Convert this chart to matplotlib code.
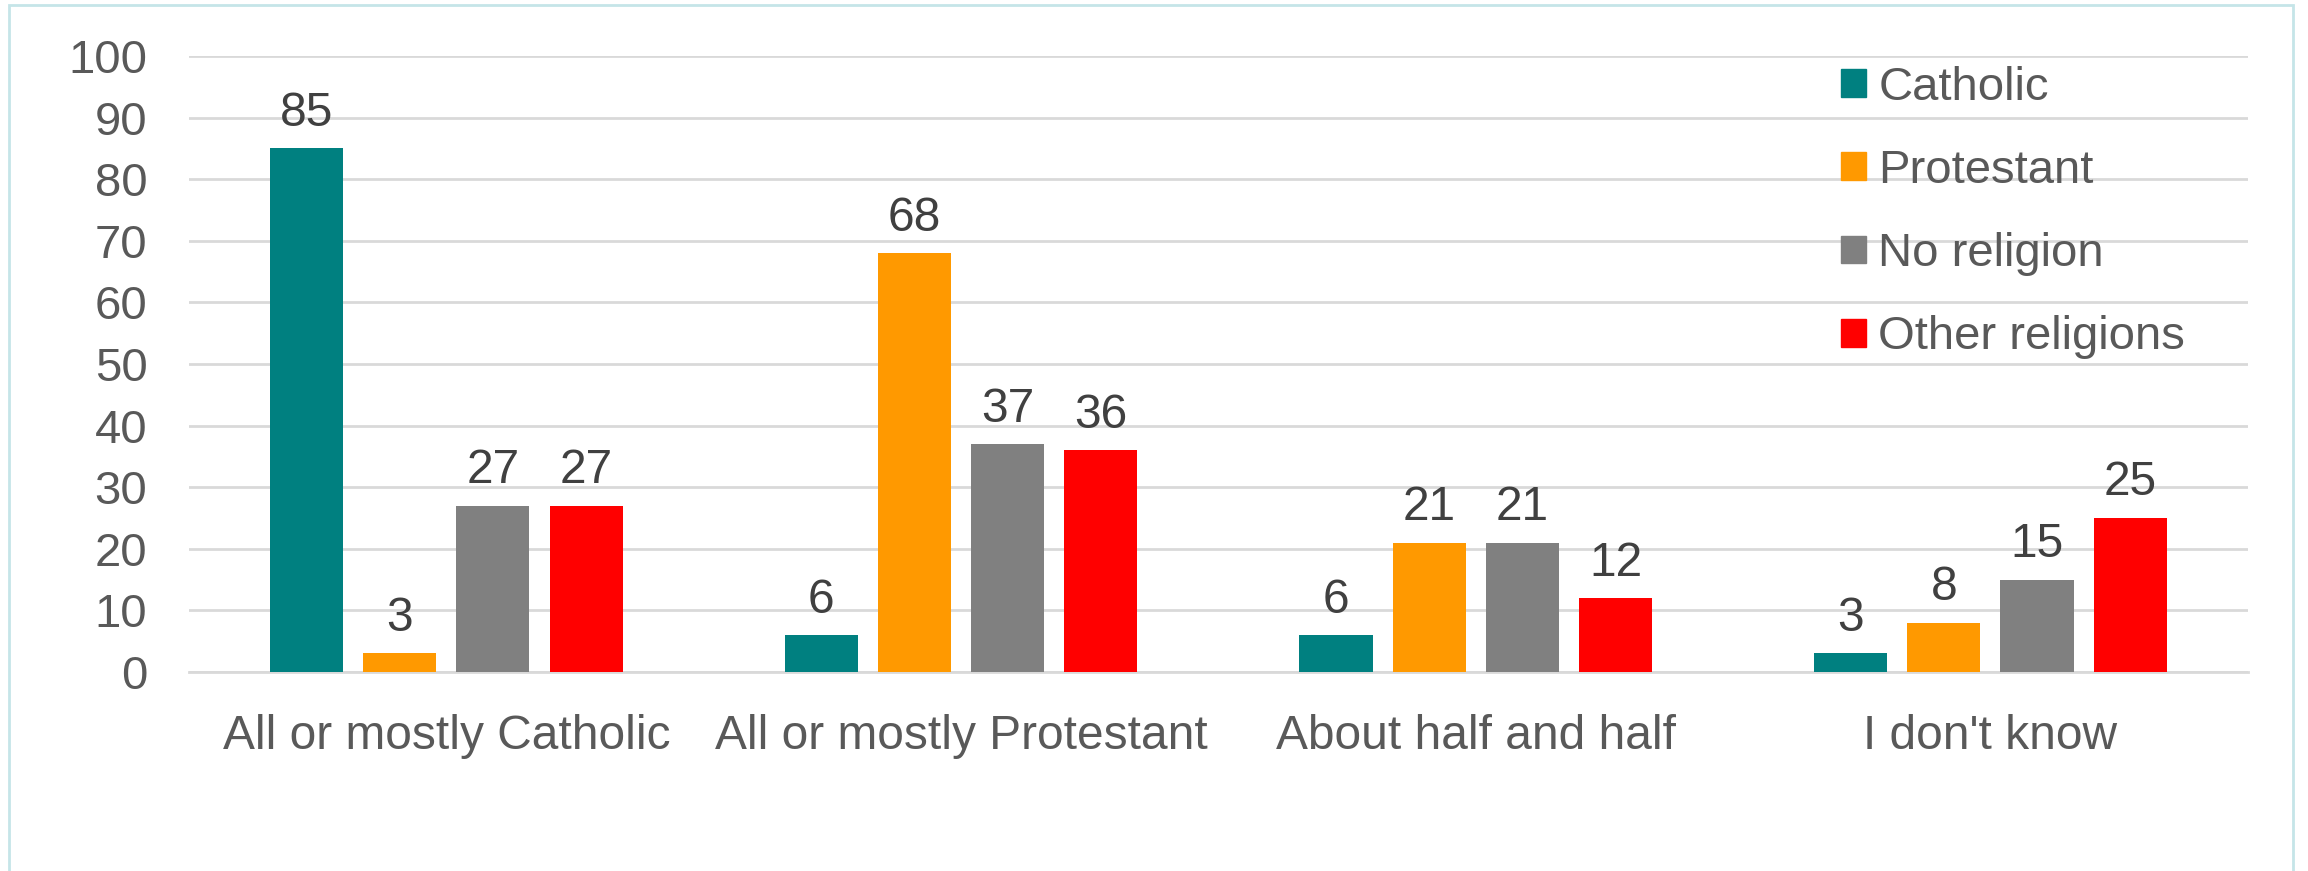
import numpy as np
import matplotlib.pyplot as plt
from matplotlib.patches import Rectangle, Patch

plt.rcParams['font.family'] = ['Liberation Sans', 'DejaVu Sans']

categories = ['All or mostly Catholic', 'All or mostly Protestant', 'About half and half', "I don't know"]
series = ['Catholic', 'Protestant', 'No religion', 'Other religions']
catholic = [85, 6, 6, 3]
protestant = [3, 68, 21, 8]
no_religion = [27, 37, 21, 15]
other = [27, 36, 12, 25]
values = [catholic, protestant, no_religion, other]
colors = ['#008080', '#FF9900', '#808080', '#FF0000']

fig = plt.figure(figsize=(23.08, 8.71), dpi=100)
ax = fig.add_axes([0.0819, 0.2285, 0.892, 0.7072])

x = np.arange(len(categories))
width = 0.142
step = 0.181
for i, (vals, col) in enumerate(zip(values, colors)):
    bars = ax.bar(x + (i - 1.5) * step, vals, width, color=col, zorder=3, label=series[i])
    ax.bar_label(bars, padding=9, fontsize=34.5, color='#404040')

ax.set_xlim(-0.5, 3.5)
ax.set_ylim(0, 100)
ax.set_yticks(range(0, 101, 10))
ax.set_xticks(x)
ax.set_xticklabels(categories)
ax.grid(axis='y', color='#d9d9d9', linewidth=2, zorder=0)
for s in ['top', 'right', 'left']:
    ax.spines[s].set_visible(False)
ax.spines['bottom'].set_color('#d9d9d9')
ax.spines['bottom'].set_linewidth(2)
ax.tick_params(axis='y', length=0, labelsize=34, colors='#595959', pad=30)
ax.tick_params(axis='x', length=0, labelsize=34.5, colors='#595959', pad=30)

handles = [Patch(color=c) for c in colors]
leg = ax.legend(handles, series, loc='upper left', bbox_to_anchor=(0.782, 1.053),
                frameon=False, fontsize=34, handlelength=0.53, handleheight=0.53,
                handletextpad=0.25, labelspacing=0.83)
for t in leg.get_texts():
    t.set_color('#595959')

fig.patches.append(Rectangle((9 / 2308, -0.05), (2293 - 9) / 2308, 1 - 5 / 871 + 0.05,
                             transform=fig.transFigure, fill=False,
                             edgecolor='#c5e5e8', linewidth=2))

fig.savefig('out.png', dpi=100)
